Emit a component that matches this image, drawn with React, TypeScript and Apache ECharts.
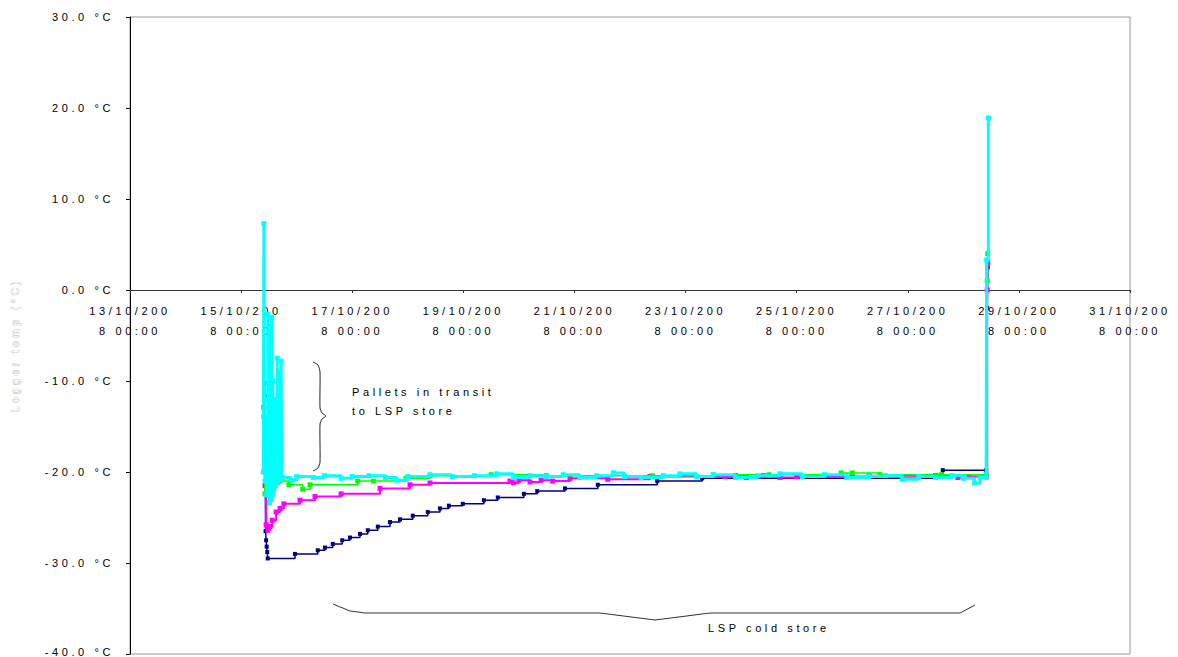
import React, { useEffect, useRef } from "react";
import * as echarts from "echarts";

// x values: days since 13/10/2008 08:00
const xTickLabels = [
  "13/10/200\n8 00:00",
  "15/10/200\n8 00:00",
  "17/10/200\n8 00:00",
  "19/10/200\n8 00:00",
  "21/10/200\n8 00:00",
  "23/10/200\n8 00:00",
  "25/10/200\n8 00:00",
  "27/10/200\n8 00:00",
  "29/10/200\n8 00:00",
  "31/10/200\n8 00:00",
];
const yTickLabels = ["-40.0 °C", "-30.0 °C", "-20.0 °C", "-10.0 °C", "0.0 °C", "10.0 °C", "20.0 °C", "30.0 °C"];
const yTickValues = [-40, -30, -20, -10, 0, 10, 20, 30];

const navySeries: [number, number][] = [
  [2.42, -10.2], [2.43, -11.7], [2.44, -26.5], [2.45, -27.5], [2.46, -28.2], [2.47, -28.8], [2.48, -29.5],
  [2.97, -29.0], [3.38, -28.6], [3.51, -28.3], [3.65, -27.9], [3.82, -27.5], [3.96, -27.2], [4.14, -26.8],
  [4.28, -26.4], [4.46, -26.0], [4.68, -25.5], [4.86, -25.2], [5.09, -24.8], [5.36, -24.4], [5.58, -24.0],
  [5.74, -23.7], [5.99, -23.5], [6.37, -23.1], [6.62, -22.8], [7.09, -22.4], [7.33, -22.1], [7.83, -21.8],
  [8.42, -21.4], [9.49, -21.0], [10.3, -20.7], [14.63, -19.8], [15.41, -19.8], [15.43, -2.0], [15.44, 2.5],
];

const magentaSeries: [number, number][] = [
  [2.41, -12.9], [2.42, -14.0], [2.43, -21.5], [2.45, -25.8], [2.48, -26.4], [2.52, -26.0], [2.56, -25.3],
  [2.63, -24.4], [2.70, -24.0], [2.77, -23.5], [3.06, -23.1], [3.33, -22.7], [3.80, -22.4], [4.50, -21.8],
  [5.04, -21.4], [5.40, -21.2], [6.84, -21.0], [6.90, -21.2], [7.00, -20.9], [7.20, -21.1], [7.40, -20.9],
  [7.61, -21.0], [7.92, -20.7], [8.60, -20.8], [9.36, -20.5], [10.71, -20.5], [10.9, -20.4], [11.1, -20.6],
  [11.4, -20.4], [11.7, -20.6], [12.0, -20.5], [13.0, -20.5], [13.3, -20.4], [14.5, -20.4], [14.9, -20.6],
  [15.1, -20.5], [15.41, -20.5], [15.43, 0.0], [15.44, 3.0],
];

const greenSeries: [number, number][] = [
  [2.41, -13.9], [2.42, -17.6], [2.43, -22.4], [2.47, -22.0], [2.55, -21.7], [2.65, -21.2], [2.70, -21.0],
  [2.86, -21.4], [3.11, -21.9], [3.24, -21.4], [4.10, -21.0], [4.38, -21.0], [4.97, -20.7], [5.40, -20.4],
  [6.5, -20.3], [7.5, -20.4], [9.4, -20.4], [10.5, -20.3], [11.5, -20.3], [12.8, -20.1], [13.0, -20.1],
  [13.5, -20.3], [14.6, -20.3], [15.41, -20.3], [15.43, 1.0], [15.44, 4.0],
];

const cyanSeries: [number, number][] = [
  [2.40, -20.0], [2.41, 7.3], [2.42, -12.0], [2.43, -21.0], [2.45, -14.0], [2.46, -22.5], [2.48, -2.7],
  [2.49, -21.0], [2.50, -4.0], [2.51, -23.4], [2.52, -6.0], [2.53, -23.0], [2.55, -3.0], [2.56, -22.5],
  [2.57, -10.0], [2.58, -22.0], [2.60, -12.0], [2.61, -21.5], [2.65, -7.5], [2.66, -21.0], [2.69, -9.0],
  [2.70, -20.8], [2.72, -7.8], [2.73, -20.7], [2.75, -20.6], [2.9, -20.9], [3.0, -20.5], [3.3, -20.6],
  [3.5, -20.4], [3.8, -20.7], [4.0, -20.5], [4.3, -20.4], [4.6, -20.6], [4.8, -20.9], [5.0, -20.5],
  [5.4, -20.3], [5.8, -20.5], [6.2, -20.4], [6.6, -20.2], [6.9, -20.6], [7.2, -20.4], [7.5, -20.5],
  [7.8, -20.3], [8.1, -20.6], [8.4, -20.4], [8.7, -20.1], [8.9, -20.5], [9.2, -20.6], [9.6, -20.4],
  [9.9, -20.2], [10.2, -20.5], [10.5, -20.3], [10.9, -20.6], [11.3, -20.4], [11.7, -20.2], [12.1, -20.5],
  [12.5, -20.3], [12.9, -20.6], [13.3, -20.5], [13.6, -20.4], [13.9, -20.8], [14.2, -20.5], [14.5, -20.6],
  [14.8, -20.4], [15.0, -20.7], [15.2, -21.2], [15.3, -20.6], [15.41, -20.6], [15.42, 3.3], [15.45, 18.9],
];

const FONT = '"Liberation Sans", Arial, sans-serif';
const GRID_TOP = 17;
const GRID_BOTTOM_PX = 654;

export default function App() {
  const ref = useRef<HTMLDivElement>(null);
  useEffect(() => {
    if (!ref.current) return;
    const chart = echarts.init(ref.current, null, { renderer: "svg" });
    const mkSeries = (name: string, data: [number, number][], color: string, width: number, sym: number, z: number) => ({
      name,
      type: "line",
      data,
      step: "end",
      symbol: "rect",
      symbolSize: sym,
      showSymbol: true,
      z,
      lineStyle: { color, width },
      itemStyle: { color },
      emphasis: { disabled: true },
    });
    // distance from grid bottom to the y=0 line (x axis sits on 0 °C)
    const zeroOffset = ((0 - -40) / (30 - -40)) * (GRID_BOTTOM_PX - GRID_TOP);
    chart.setOption({
      animation: false,
      grid: {
        left: 130, right: 48, top: GRID_TOP, bottom: 657 - GRID_BOTTOM_PX,
        containLabel: false, outerBoundsMode: "none",
        show: true, borderColor: "#999", borderWidth: 1, backgroundColor: "transparent",
      },
      xAxis: {
        type: "value",
        min: 0, max: 18, interval: 2,
        position: "bottom",
        offset: -zeroOffset,
        axisLine: { onZero: false, lineStyle: { color: "#333", width: 1 } },
        axisTick: { show: true, length: 3, lineStyle: { color: "#333" } },
        splitLine: { show: false },
        axisLabel: {
          color: "#000", fontSize: 11, fontFamily: FONT, lineHeight: 20, margin: 11,
          formatter: (v: number) => xTickLabels[Math.round(v / 2)] ?? "",
        },
      },
      yAxis: {
        type: "value",
        min: -40, max: 30, interval: 10,
        axisLine: { show: true, onZero: false, lineStyle: { color: "#000", width: 1 } },
        axisTick: { show: true, length: 4, lineStyle: { color: "#000" } },
        splitLine: { show: false },
        axisLabel: {
          color: "#000", fontSize: 11, fontFamily: FONT, margin: 16,
          formatter: (v: number) => {
            const t = yTickLabels[yTickValues.indexOf(v)] ?? "";
            return v === -40 ? `{low|${t}}` : t;
          },
          rich: {
            low: { fontSize: 11, fontFamily: FONT, color: "#000", padding: [0, 0, 5, 0] },
          },
        },
      },
      series: [
        mkSeries("Logger 1", navySeries, "#000080", 1.5, 4, 2),
        mkSeries("Logger 2", magentaSeries, "#FF00FF", 2, 5, 3),
        mkSeries("Logger 3", greenSeries, "#00FF00", 1.5, 5, 4),
        mkSeries("Logger 4", cyanSeries, "#00FFFF", 3, 5, 5),
      ],
      graphic: [
        {
          type: "text", x: 15, y: 345, rotation: Math.PI / 2,
          style: {
            text: "Logger temp (°C)", fontSize: 10, fontFamily: FONT,
            fill: "#fff", stroke: "#b5b5b5", lineWidth: 0.7,
            textAlign: "center", textVerticalAlign: "middle",
          },
        },
        {
          type: "polyline",
          shape: {
            points: [[313, 362], [318, 365], [320, 372], [320, 408], [322, 413], [326, 416], [322, 419], [320, 424], [320, 462], [318, 468], [313, 471]],
            smooth: 0.2,
          },
          style: { stroke: "#222", lineWidth: 1, fill: null },
        },
        {
          type: "text", x: 352, y: 392,
          style: { text: "Pallets in transit", fontSize: 11, fontFamily: FONT, fill: "#000", textVerticalAlign: "middle" },
        },
        {
          type: "text", x: 352, y: 411,
          style: { text: "to LSP store", fontSize: 11, fontFamily: FONT, fill: "#000", textVerticalAlign: "middle" },
        },
        {
          type: "polyline",
          shape: {
            points: [[333, 604], [350, 611], [365, 613], [600, 613], [655, 620], [710, 613], [960, 613], [975, 605]],
          },
          style: { stroke: "#333", lineWidth: 1, fill: null },
        },
        {
          type: "text", x: 708, y: 628,
          style: { text: "LSP cold store", fontSize: 11, fontFamily: FONT, fill: "#000", textVerticalAlign: "middle" },
        },
      ],
    });
    return () => chart.dispose();
  }, []);
  return (
    <div
      ref={ref}
      style={{
        position: "fixed", left: 0, top: 0, width: 1178, height: 657,
        background: "#fff", letterSpacing: "3.6px",
      }}
    />
  );
}
